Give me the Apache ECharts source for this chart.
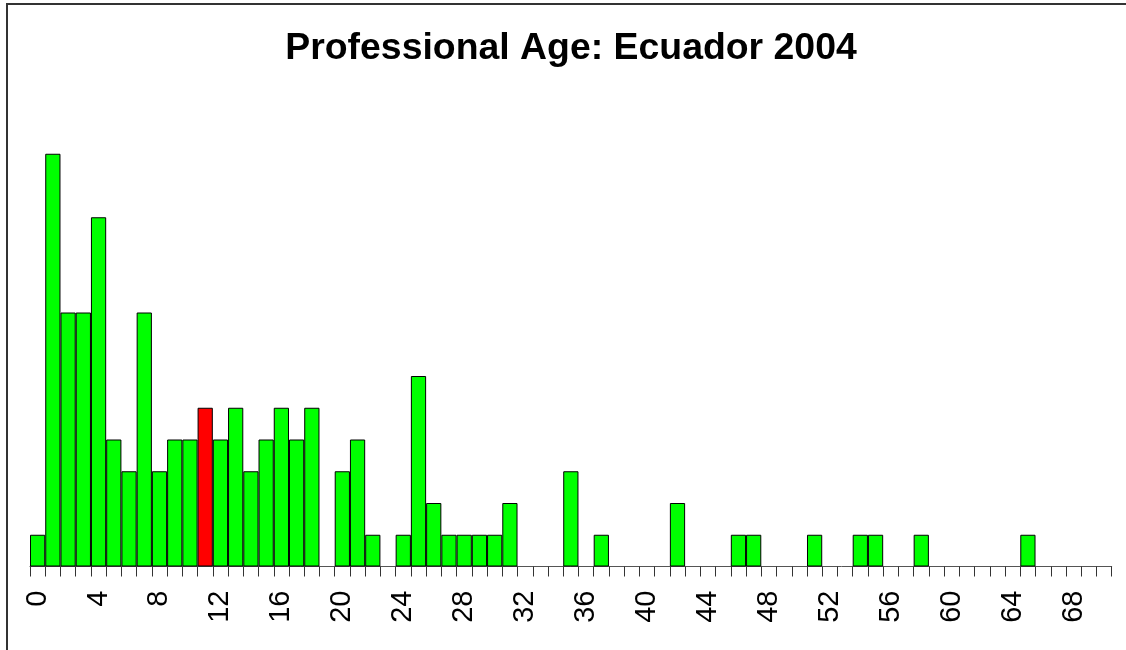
<!DOCTYPE html>
<html>
<head>
<meta charset="utf-8">
<script src="https://cdn.jsdelivr.net/npm/echarts@6/dist/echarts.min.js"></script>
<style>
html,body{margin:0;padding:0;background:#fff;}
#chart{width:1126px;height:650px;}
</style>
</head>
<body>
<div id="chart"></div>
<script>
// Data: professional age (years) counts, Ecuador 2004
const titleText = "Professional Age: Ecuador 2004";
const ages = [];
for (let i = 0; i <= 70; i++) ages.push(String(i));
const counts = [
  1, 13, 8, 8, 11, 4, 3, 8, 3, 4,
  4, 5, 4, 5, 3, 4, 5, 4, 5, 0,
  3, 4, 1, 0, 1, 6, 2, 1, 1, 1,
  1, 2, 0, 0, 0, 3, 0, 1, 0, 0,
  0, 0, 2, 0, 0, 0, 1, 1, 0, 0,
  0, 1, 0, 0, 1, 1, 0, 0, 1, 0,
  0, 0, 0, 0, 0, 1, 0, 0, 0, 0,
  0
];
const highlightAge = "11";
const barColor = "#00ff00";
const highlightColor = "#ff0000";

const chart = echarts.init(document.getElementById('chart'), null, {renderer: 'canvas'});
const seriesData = counts.map((v, i) => ({
  value: v === 0 ? '-' : v,
  itemStyle: { color: ages[i] === highlightAge ? highlightColor : barColor }
}));

chart.setOption({
  animation: false,
  backgroundColor: '#ffffff',
  grid: { left: 30, right: 14.3, top: 122, bottom: 83.5, containLabel: false },
  xAxis: {
    type: 'category',
    data: ages,
    boundaryGap: true,
    axisLine: { show: true, lineStyle: { color: '#555', width: 1 } },
    axisTick: { show: true, interval: 0, length: 10, lineStyle: { color: '#333', width: 1 } },
    axisLabel: {
      interval: 3,
      rotate: 90,
      margin: 24,
      fontFamily: 'Liberation Sans',
      fontSize: 29,
      color: '#000'
    },
    splitLine: { show: false }
  },
  yAxis: {
    type: 'value',
    min: 0,
    max: 14,
    show: false,
    splitLine: { show: false }
  },
  series: [{
    type: 'bar',
    data: seriesData,
    barCategoryGap: '0%',
    barGap: '0%',
    itemStyle: { borderColor: '#000', borderWidth: 1 }
  }],
  graphic: [
    {
      type: 'rect',
      shape: { x: 7, y: 4, width: 1300, height: 900 },
      style: { fill: 'none', stroke: '#333', lineWidth: 2 },
      silent: true
    },
    {
      type: 'text',
      x: 571,
      y: 49,
      style: {
        text: titleText,
        fontFamily: 'Liberation Sans',
        fontWeight: 'bold',
        fontSize: 37.4,
        fill: '#000',
        align: 'center',
        verticalAlign: 'middle'
      }
    }
  ]
});
</script>
</body>
</html>
